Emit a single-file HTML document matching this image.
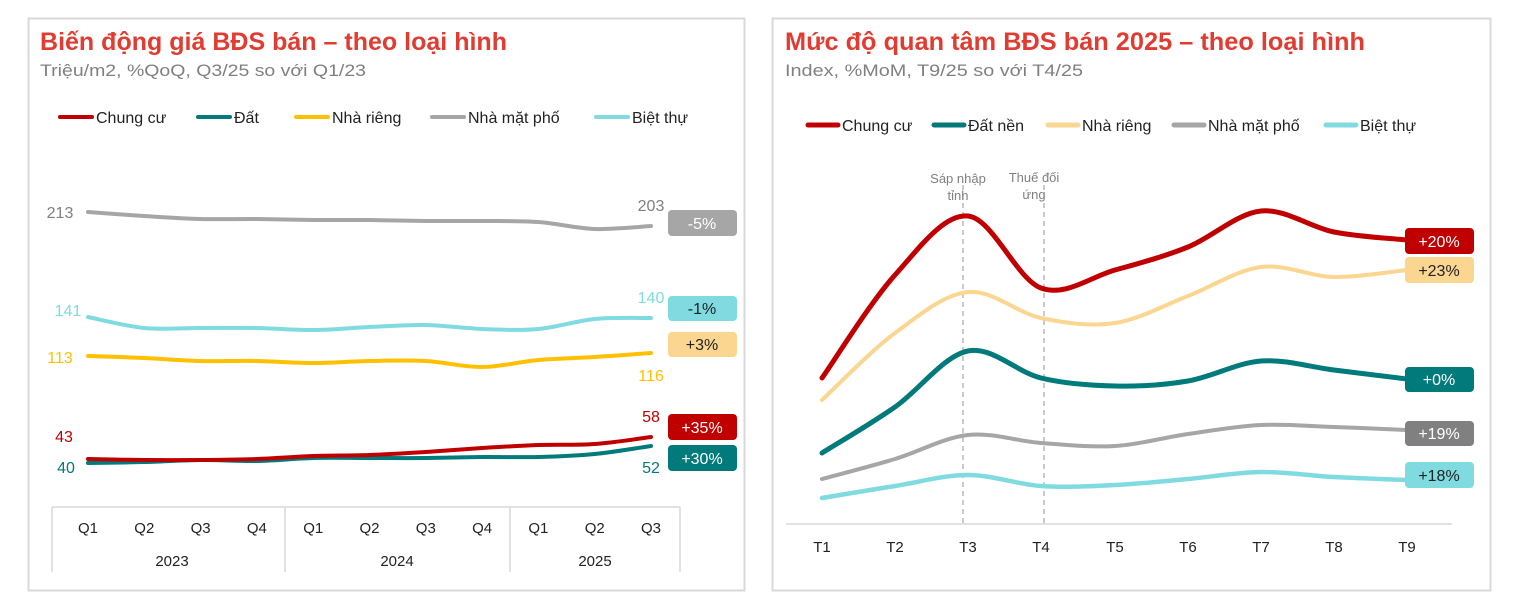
<!DOCTYPE html>
<html><head><meta charset="utf-8"><style>
body{margin:0;background:#fff;width:1523px;height:602px;overflow:hidden}
svg{font-family:"Liberation Sans",sans-serif}
</style></head><body>
<svg id="s" width="1523" height="602" viewBox="0 0 1523 602">
<rect x="28.5" y="18.5" width="716" height="572" fill="#fff" stroke="#d9d9d9" stroke-width="2"/>
<rect x="772.5" y="18.5" width="718" height="572" fill="#fff" stroke="#d9d9d9" stroke-width="2"/>
<text x="40" y="50" font-size="25" font-weight="bold" fill="#e03c31" textLength="467" lengthAdjust="spacingAndGlyphs">Biến động giá BĐS bán – theo loại hình</text>
<text x="40" y="76" font-size="17" fill="#808080" textLength="326" lengthAdjust="spacingAndGlyphs">Triệu/m2, %QoQ, Q3/25 so với Q1/23</text>
<text x="785" y="50" font-size="25" font-weight="bold" fill="#e03c31" textLength="580" lengthAdjust="spacingAndGlyphs">Mức độ quan tâm BĐS bán 2025 – theo loại hình</text>
<text x="785" y="76" font-size="17" fill="#808080" textLength="298" lengthAdjust="spacingAndGlyphs">Index, %MoM, T9/25 so với T4/25</text>
<g font-size="16" fill="#222">
<line x1="60" y1="117" x2="92" y2="117" stroke="#c00000" stroke-width="4" stroke-linecap="round"/><text x="96" y="123">Chung cư</text>
<line x1="198" y1="117" x2="230" y2="117" stroke="#007a7a" stroke-width="4" stroke-linecap="round"/><text x="234" y="123">Đất</text>
<line x1="296" y1="117" x2="328" y2="117" stroke="#ffc000" stroke-width="4" stroke-linecap="round"/><text x="332" y="123">Nhà riêng</text>
<line x1="432" y1="117" x2="464" y2="117" stroke="#a6a6a6" stroke-width="4" stroke-linecap="round"/><text x="468" y="123">Nhà mặt phố</text>
<line x1="596" y1="117" x2="628" y2="117" stroke="#7fdbe0" stroke-width="4" stroke-linecap="round"/><text x="632" y="123">Biệt thự</text>
<line x1="808" y1="125" x2="838" y2="125" stroke="#c00000" stroke-width="5" stroke-linecap="round"/><text x="842" y="131">Chung cư</text>
<line x1="934" y1="125" x2="964" y2="125" stroke="#007a7a" stroke-width="5" stroke-linecap="round"/><text x="968" y="131">Đất nền</text>
<line x1="1048" y1="125" x2="1078" y2="125" stroke="#fad690" stroke-width="5" stroke-linecap="round"/><text x="1082" y="131">Nhà riêng</text>
<line x1="1174" y1="125" x2="1204" y2="125" stroke="#a6a6a6" stroke-width="5" stroke-linecap="round"/><text x="1208" y="131">Nhà mặt phố</text>
<line x1="1326" y1="125" x2="1356" y2="125" stroke="#7fdbe0" stroke-width="5" stroke-linecap="round"/><text x="1360" y="131">Biệt thự</text>
</g>
<g stroke="#d9d9d9" stroke-width="1.5">
<line x1="52" y1="507" x2="680" y2="507"/>
<line x1="52" y1="507" x2="52" y2="572"/><line x1="285" y1="507" x2="285" y2="572"/>
<line x1="510" y1="507" x2="510" y2="572"/><line x1="680" y1="507" x2="680" y2="572"/>
</g>
<g id="ql" font-size="15" fill="#222" text-anchor="middle"></g>
<g font-size="15" fill="#222" text-anchor="middle">
<text x="172" y="566">2023</text><text x="397" y="566">2024</text><text x="595" y="566">2025</text>
</g>
<g font-size="16" text-anchor="middle">
<text x="60" y="218" fill="#808080">213</text><text x="68" y="316" fill="#7fdbe0">141</text>
<text x="60" y="363" fill="#ffc000">113</text><text x="64" y="442" fill="#c00000">43</text>
<text x="66" y="473" fill="#007a7a">40</text>
<text x="651" y="211" fill="#808080">203</text><text x="651" y="303" fill="#7fdbe0">140</text>
<text x="651" y="381" fill="#ffc000">116</text><text x="651" y="422" fill="#c00000">58</text>
<text x="651" y="473" fill="#007a7a">52</text>
</g>
<line x1="786" y1="524" x2="1452" y2="524" stroke="#d9d9d9" stroke-width="1.5"/>
<g stroke="#a6a6a6" stroke-dasharray="5,4" stroke-width="1.2">
<line x1="963" y1="185" x2="963" y2="524"/><line x1="1044" y1="185" x2="1044" y2="524"/>
</g>
<g font-size="13" fill="#808080" text-anchor="middle">
<text x="958" y="183">Sáp nhập</text><text x="958" y="200">tỉnh</text>
<text x="1034" y="182">Thuế đối</text><text x="1034" y="199">ứng</text>
</g>
<g id="tl" font-size="15" fill="#222" text-anchor="middle"></g>
<g id="lines" fill="none" stroke-linecap="round" stroke-linejoin="round"></g>
<g font-size="16" text-anchor="middle">
<rect x="668" y="210" width="69" height="26" rx="4" fill="#a6a6a6"/><text x="702" y="229" fill="#fff">-5%</text>
<rect x="668" y="296" width="69" height="25" rx="4" fill="#7fdbe0"/><text x="702" y="314" fill="#222">-1%</text>
<rect x="668" y="332" width="69" height="25" rx="4" fill="#fad690"/><text x="702" y="350" fill="#222">+3%</text>
<rect x="668" y="414" width="69" height="26" rx="4" fill="#c00000"/><text x="702" y="433" fill="#fff">+35%</text>
<rect x="668" y="445" width="69" height="26" rx="4" fill="#007a7a"/><text x="702" y="464" fill="#fff">+30%</text>
<rect x="1405" y="228" width="69" height="26" rx="4" fill="#c00000"/><text x="1439" y="247" fill="#fff">+20%</text>
<rect x="1405" y="257" width="69" height="26" rx="4" fill="#fad690"/><text x="1439" y="276" fill="#222">+23%</text>
<rect x="1405" y="367" width="69" height="25" rx="4" fill="#007a7a"/><text x="1439" y="385" fill="#fff">+0%</text>
<rect x="1405" y="421" width="69" height="25" rx="4" fill="#808080"/><text x="1439" y="439" fill="#fff">+19%</text>
<rect x="1405" y="462" width="69" height="26" rx="4" fill="#7fdbe0"/><text x="1439" y="481" fill="#222">+18%</text>
</g>
</svg>
<script>
var NS="http://www.w3.org/2000/svg";
function el(p,t,a,txt){var e=document.createElementNS(NS,t);for(var k in a)e.setAttribute(k,a[k]);if(txt)e.textContent=txt;document.getElementById(p).appendChild(e);}
function cr(pts){var d="M"+pts[0][0]+","+pts[0][1];for(var i=0;i<pts.length-1;i++){var p0=pts[i-1]||pts[i],p1=pts[i],p2=pts[i+1],p3=pts[i+2]||p2;
d+=" C"+(p1[0]+(p2[0]-p0[0])/6)+","+(p1[1]+(p2[1]-p0[1])/6)+" "+(p2[0]-(p3[0]-p1[0])/6)+","+(p2[1]-(p3[1]-p1[1])/6)+" "+p2[0]+","+p2[1];}return d;}
var lx=[],q=["Q1","Q2","Q3","Q4","Q1","Q2","Q3","Q4","Q1","Q2","Q3"];
for(var i=0;i<11;i++){lx.push(88+i*56.3);el("ql","text",{x:88+i*56.3,y:533},q[i]);}
var rx=[822,895,968,1041,1115,1188,1261,1334,1407];
for(var i=0;i<9;i++)el("tl","text",{x:rx[i],y:552},"T"+(i+1));
function L(xs,ys,c,w){el("lines","path",{d:cr(xs.map(function(x,i){return[x,ys[i]]})),stroke:c,"stroke-width":w});}
L(lx,[212,216,219,219,220,220,221,221,222,229,226],"#a6a6a6",4);
L(lx,[317,328,328,328,330,327,325,329,329,319,318],"#7fdbe0",4);
L(lx,[356,358,361,361,363,361,361,367,360,357,353],"#ffc000",4);
L(lx,[463,462,460,461,458,458,458,457,457,454,446],"#007a7a",4);
L(lx,[459,460,460,459,456,455,452,448,445,444,437],"#c00000",4);
L(rx,[498,486,475,486,485,479,472,477,480],"#7fdbe0",4.5);
L(rx,[479,459,435,443,446,434,425,427,430],"#a6a6a6",4);
L(rx,[453,407,351,378,386,381,361,370,379],"#007a7a",5);
L(rx,[400,333,292,318,323,296,267,277,270],"#fad690",4);
L(rx,[378,275,216,288,270,247,211,232,240],"#c00000",5);
</script>
</body></html>
